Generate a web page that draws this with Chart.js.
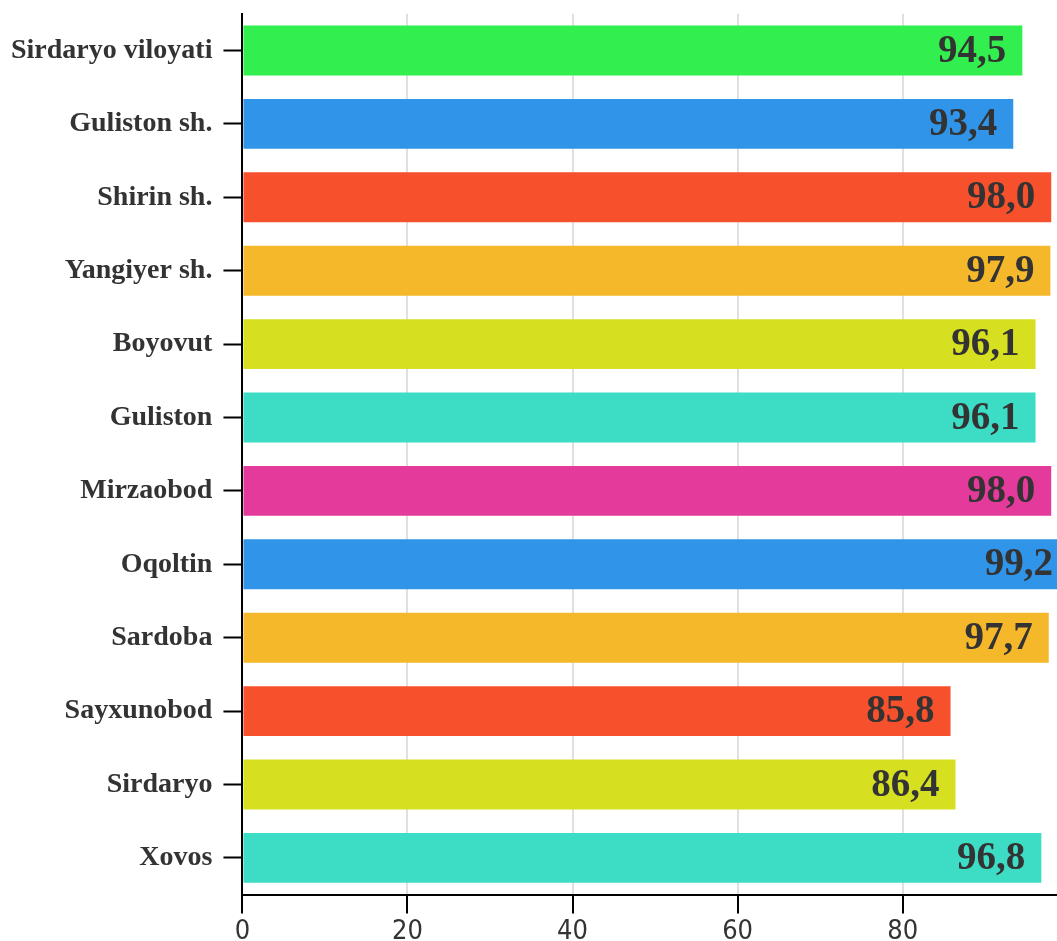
<!DOCTYPE html>
<html>
<head>
<meta charset="utf-8">
<script src="https://cdn.jsdelivr.net/npm/chart.js@4.4.0/dist/chart.umd.min.js"></script>
<style>
  html, body { margin: 0; padding: 0; background: #fff; overflow: hidden; }
  #wrap { width: 1057px; height: 964px; margin-top: -14px; position: relative; }
</style>
</head>
<body>
<div id="wrap"><canvas id="barChart"></canvas></div>
<script>
// Ma'lumotlar
const hududlar = ['Sirdaryo viloyati', 'Guliston sh.', 'Shirin sh.', 'Yangiyer sh.', 'Boyovut', 'Guliston', 'Mirzaobod', 'Oqoltin', 'Sardoba', 'Sayxunobod', 'Sirdaryo', 'Xovos'];
const qiymatlar = [94.5, 93.4, 98.0, 97.9, 96.1, 96.1, 98.0, 99.2, 97.7, 85.8, 86.4, 96.8];
const ranglar = ['#32ef4f', '#3094e9', '#f6502d', '#f5b82b', '#d6e021', '#3ddcc5', '#e43a9b', '#3094e9', '#f5b82b', '#f6502d', '#d6e021', '#3ddcc5'];
const xTicks = [0, 20, 40, 60, 80];

// Ustun oxiridagi yozuvlar
const qiymatYozuvi = {
  id: 'qiymatYozuvi',
  afterDatasetsDraw(chart) {
    const ctx = chart.ctx;
    const area = chart.chartArea;
    const meta = chart.getDatasetMeta(0);
    ctx.save();
    ctx.font = 'bold 39px "Liberation Serif", "Times New Roman", serif';
    ctx.fillStyle = '#333333';
    ctx.textAlign = 'right';
    ctx.textBaseline = 'middle';
    meta.data.forEach((bar, i) => {
      // ustun chegaradan chiqsa, yozuv chekkaga taqaladi
      const x = bar.x > area.right ? area.right - 4 : bar.x - 16;
      const txt = qiymatlar[i].toFixed(1).replace('.', ',');
      ctx.fillText(txt, x, bar.y + 1);
    });
    ctx.restore();
  }
};

const ctx = document.getElementById('barChart').getContext('2d');

new Chart(ctx, {
  type: 'bar',
  data: {
    labels: hududlar,
    datasets: [{
      data: qiymatlar,
      backgroundColor: ranglar,
      borderWidth: 0,
      categoryPercentage: 1,
      barPercentage: 0.68
    }]
  },
  options: {
    indexAxis: 'y',
    responsive: true,
    maintainAspectRatio: false,
    animation: false,
    layout: { padding: { top: 4, right: 0, left: 0, bottom: 0 } },
    plugins: {
      legend: { display: false },
      tooltip: { enabled: false }
    },
    scales: {
      x: {
        min: 0,
        max: 98.7,
        afterBuildTicks: (axis) => {
          axis.ticks = xTicks.map(v => ({ value: v }));
        },
        border: { color: '#000', width: 2 },
        grid: {
          color: '#e0e0e0',
          lineWidth: 2,
          tickColor: '#000',
          tickLength: 19,
          tickWidth: 2
        },
        ticks: {
          color: '#333',
          padding: 2,
          font: { family: '"Liberation Sans Narrow", "DejaVu Sans Condensed", Roboto, sans-serif', size: 27 }
        }
      },
      y: {
        border: { color: '#000', width: 2 },
        grid: {
          offset: false,
          drawOnChartArea: false,
          tickColor: '#000',
          tickLength: 19,
          tickWidth: 2
        },
        ticks: {
          color: '#333',
          padding: 11,
          font: { family: '"Liberation Serif", "Times New Roman", serif', size: 28, weight: 'bold' }
        }
      }
    }
  },
  plugins: [qiymatYozuvi]
});
</script>
</body>
</html>
